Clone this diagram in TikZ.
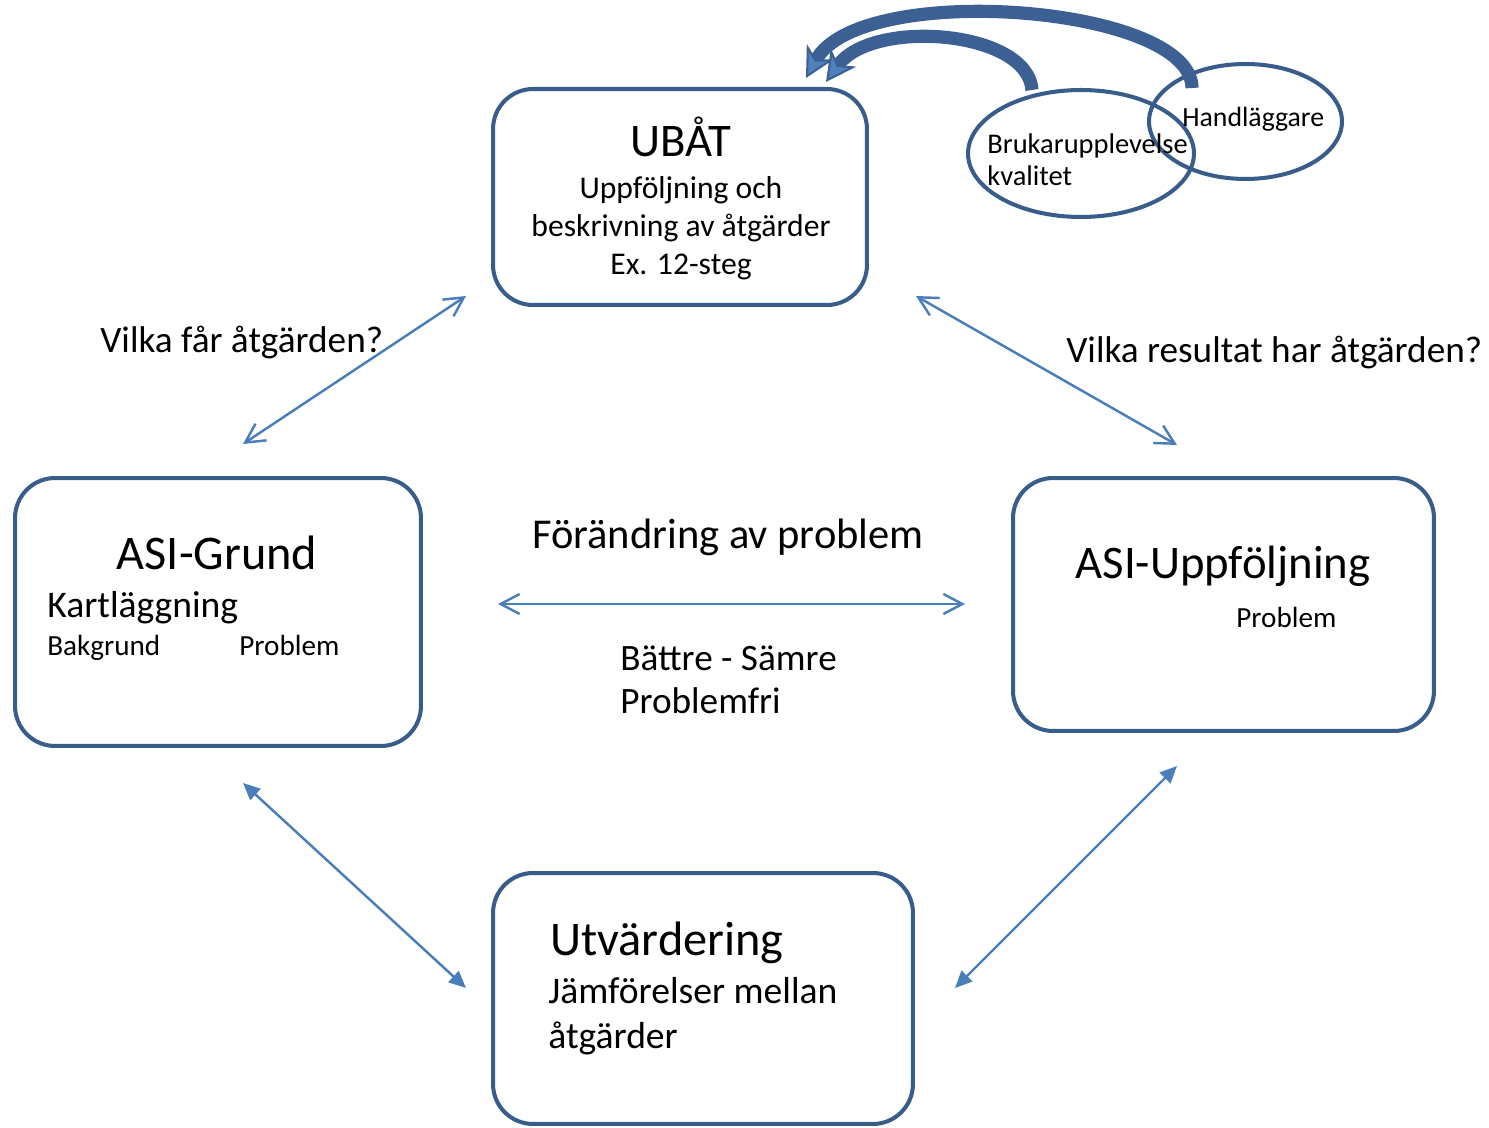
\documentclass[tikz,border=0pt]{standalone}
\usepackage{fontspec}
\setmainfont{Carlito}
\usepackage{tikz}
\usetikzlibrary{arrows.meta,shapes.geometric,positioning,calc}
\definecolor{ubframe}{RGB}{56,93,138}
\definecolor{ubline}{RGB}{74,126,187}
\definecolor{ubcurve}{RGB}{60,96,148}
\definecolor{ubtip}{RGB}{79,129,189}

\begin{document}
\begin{tikzpicture}[
    x=0.02cm, y=-0.02cm,
    box/.style={rectangle, rounded corners=0.8cm, draw=ubframe, line width=2.3pt},
    bubble/.style={ellipse, draw=ubframe, line width=2.3pt},
    txt/.style={inner sep=0pt, align=left},
    link/.style={{Straight Barb[length=0.38cm,width=0.4cm]}-{Straight Barb[length=0.38cm,width=0.4cm]}, ubline, line width=1.4pt},
    flink/.style={{Triangle[length=0.34cm,width=0.3cm]}-{Triangle[length=0.34cm,width=0.3cm]}, ubline, line width=1.4pt},
    curvearrow/.style={-{Stealth[length=0.6cm,width=0.62cm,inset=0.18cm,line width=1.2pt,fill=ubtip]}, ubcurve, line width=7.5pt}
]
    \useasboundingbox (0,0) rectangle (1489,1128);

    % Boxes
    \node[box, minimum width=7.48cm, minimum height=4.32cm] (ubat) at (680,197) {};
    \node[box, minimum width=8.12cm, minimum height=5.36cm] (grund) at (218,612) {};
    \node[box, minimum width=8.42cm, minimum height=5.06cm] (uppf) at (1223.5,604.5) {};
    \node[box, minimum width=8.4cm, minimum height=5.02cm] (utv) at (703,998.5) {};

    % Bubbles
    \node[bubble, minimum width=4.52cm, minimum height=2.54cm] (bruk) at (1081,153.5) {};
    \node[bubble, minimum width=3.86cm, minimum height=2.3cm] (handl) at (1245.5,121.5) {};

    % Box texts
    \node[txt, anchor=base, font=\fontsize{26.6}{31}\selectfont] (ubattitle) at (681,157) {UBÅT};
    \node[txt, anchor=base, align=center, font=\fontsize{18}{21.8}\selectfont] (ubattext) at (681,275) {Uppföljning och\\beskrivning av åtgärder\\Ex. 12-steg};

    \node[txt, anchor=base, font=\fontsize{27.5}{32}\selectfont] (grundtitle) at (217,570) {ASI-Grund};
    \node[txt, anchor=base west, font=\fontsize{21.4}{25}\selectfont] (kart) at (47,618) {Kartläggning};
    \node[txt, anchor=base west, font=\fontsize{16.6}{19.5}\selectfont] (bakgr) at (47,656) {Bakgrund};
    \node[txt, anchor=base west, font=\fontsize{16.6}{19.5}\selectfont] (probl1) at (239,656) {Problem};

    \node[txt, anchor=base, font=\fontsize{26.6}{31}\selectfont] (uppftitle) at (1223,579) {ASI-Uppföljning};
    \node[txt, anchor=base west, font=\fontsize{16.6}{19.5}\selectfont] (probl2) at (1236,628) {Problem};

    \node[txt, anchor=base west, font=\fontsize{27.5}{32}\selectfont] (utvtitle) at (550,955) {Utvärdering};
    \node[txt, anchor=base west, font=\fontsize{21.4}{25.3}\selectfont] (utvtext) at (548,1048) {Jämförelser mellan\\åtgärder};

    \node[txt, anchor=base west, font=\fontsize{16.2}{18.7}\selectfont] (bruktext) at (987,186) {Brukarupplevelse\\kvalitet};
    \node[txt, anchor=base west, font=\fontsize{15.8}{18.5}\selectfont] (handltext) at (1182,127) {Handläggare};

    % Free texts
    \node[txt, anchor=base west, font=\fontsize{21.2}{25}\selectfont] (fraga1) at (100,353) {Vilka får åtgärden?};
    \node[txt, anchor=base west, font=\fontsize{21.2}{25}\selectfont] (fraga2) at (1066,363) {Vilka resultat har åtgärden?};
    \node[txt, anchor=base, font=\fontsize{24.2}{28}\selectfont] (forand) at (728,549) {Förändring av problem};
    \node[txt, anchor=base west, font=\fontsize{21.2}{25}\selectfont] (battre) at (620,714) {Bättre - Sämre\\Problemfri};

    % Arrow ends
    \coordinate (gU) at (243,444);
    \coordinate (uG) at (466,296);
    \coordinate (uP) at (916,296);
    \coordinate (pU) at (1177,445);
    \coordinate (gP) at (498,604);
    \coordinate (pG) at (965,604);
    \coordinate (gV) at (243,783);
    \coordinate (vG) at (466,988);
    \coordinate (vP) at (955,988);
    \coordinate (pV) at (1177,766);
    \coordinate (bS) at (1032,90);
    \coordinate (bE) at (826,82);
    \coordinate (hS) at (1192,88);
    \coordinate (hE) at (806,78);

    % Arrows
    \draw[link] (gU) -- (uG);
    \draw[link] (uP) -- (pU);
    \draw[link] (gP) -- (pG);
    \draw[flink] (gV) -- (vG);
    \draw[flink] (vP) -- (pV);
    \draw[curvearrow] (hS) .. controls (1192,5) and (860,-20) .. (hE);
    \draw[curvearrow] (bS) .. controls (1028,30) and (872,18) .. (bE);
\end{tikzpicture}
\end{document}
